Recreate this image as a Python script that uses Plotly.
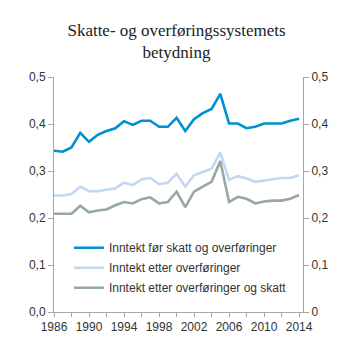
import plotly.graph_objects as go

years = list(range(1986, 2015))
for_skatt = [0.343, 0.341, 0.350, 0.381, 0.362, 0.377, 0.385, 0.391, 0.406, 0.398,
             0.407, 0.407, 0.394, 0.394, 0.413, 0.385, 0.410, 0.423, 0.432, 0.464,
             0.401, 0.401, 0.391, 0.394, 0.401, 0.401, 0.401, 0.407, 0.411]
etter_overf = [0.248, 0.248, 0.251, 0.267, 0.257, 0.257, 0.260, 0.263, 0.275, 0.270,
               0.282, 0.285, 0.272, 0.275, 0.294, 0.267, 0.291, 0.298, 0.305, 0.339,
               0.281, 0.289, 0.284, 0.277, 0.280, 0.282, 0.285, 0.285, 0.291]
etter_overf_skatt = [0.209, 0.209, 0.209, 0.226, 0.212, 0.216, 0.218, 0.227, 0.234, 0.231,
                     0.240, 0.244, 0.231, 0.234, 0.256, 0.223, 0.256, 0.267, 0.277, 0.321,
                     0.234, 0.245, 0.241, 0.231, 0.235, 0.237, 0.237, 0.241, 0.249]
names = ["Inntekt før skatt og overføringer", "Inntekt etter overføringer",
         "Inntekt etter overføringer og skatt"]
colors = ["#0090d2", "#c3d8f0", "#97a8a3"]
y_ticks = [0.0, 0.1, 0.2, 0.3, 0.4, 0.5]
left_labels = ["0,0", "0,1", "0,2", "0,3", "0,4", "0,5"]
right_labels = ["0", "0,1", "0,2", "0,3", "0,4", "0,5"]
x_labels = list(range(1986, 2015, 4))

fig = go.Figure()
for i, (nm, vals) in enumerate(zip(names, [for_skatt, etter_overf, etter_overf_skatt])):
    fig.add_trace(go.Scatter(x=years, y=vals, mode="lines", name=nm,
                             legendgroup=str(i),
                             line=dict(color=colors[i], width=2.6)))
# invisible trace for right axis
fig.add_trace(go.Scatter(x=[years[0]], y=[0], yaxis="y2", mode="markers",
                         marker=dict(opacity=0), showlegend=False, hoverinfo="skip"))

axis_font = dict(family="Liberation Sans, Arial", size=12, color="#333333")
fig.update_layout(
    width=353, height=353,
    margin=dict(l=54, r=50, t=77, b=41),
    paper_bgcolor="white", plot_bgcolor="white",
    title=dict(text="Skatte- og overføringssystemets<br>betydning",
               x=0.5, xanchor="center", y=0.898, yanchor="top",
               font=dict(family="Liberation Serif, Times New Roman", size=17, color="#222222")),
    xaxis=dict(range=[1986, 2014.45], tickvals=x_labels, ticktext=[str(v) for v in x_labels],
               ticks="outside", ticklen=4, tickcolor="#a6a6a6",
               minor=dict(dtick=2, tick0=1986, ticks="outside", ticklen=4, tickcolor="#a6a6a6"),
               showline=True, linecolor="#a6a6a6", linewidth=1, showgrid=False,
               zeroline=False, tickfont=axis_font),
    yaxis=dict(range=[0, 0.5], tickvals=y_ticks, ticktext=left_labels,
               ticks="outside", ticklen=5, tickcolor="#a6a6a6",
               showline=True, linecolor="#a6a6a6", linewidth=1, showgrid=False,
               zeroline=False, tickfont=axis_font),
    yaxis2=dict(range=[0, 0.5], tickvals=y_ticks, ticktext=right_labels,
                overlaying="y", side="right",
                ticks="outside", ticklen=5, tickcolor="#a6a6a6",
                showline=True, linecolor="#a6a6a6", linewidth=1, showgrid=False,
                zeroline=False, tickfont=axis_font),
    legend=dict(x=0.06, y=0.335, xanchor="left", yanchor="top",
                bgcolor="rgba(0,0,0,0)", tracegroupgap=1,
                font=dict(family="Liberation Sans, Arial", size=12, color="#333333")),
    showlegend=True,
)
fig.write_html("out.html")
